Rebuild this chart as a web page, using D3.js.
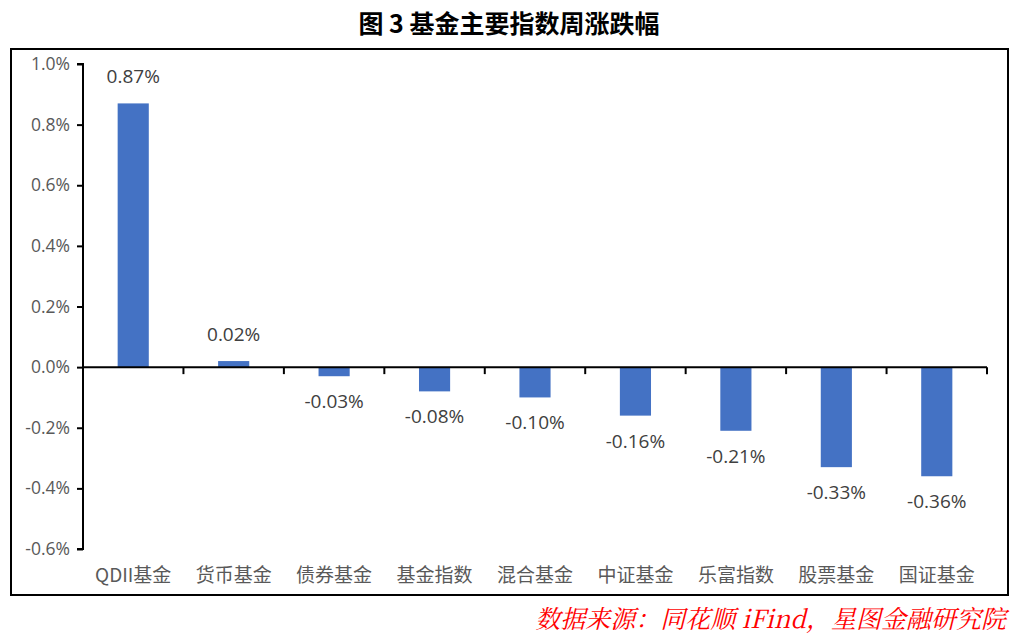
<!DOCTYPE html>
<html>
<head>
<meta charset="utf-8">
<script src="https://cdn.jsdelivr.net/npm/d3@7"></script>
<style>
  body { margin: 0; background: #fff; }
  svg { display: block; }
</style>
</head>
<body>
<svg id="chart" width="1018" height="636"></svg>
<script>
// Chart data
const categories = ['QDII基金', '货币基金', '债券基金', '基金指数', '混合基金', '中证基金', '乐富指数', '股票基金', '国证基金'];
const values = [0.87, 0.02, -0.03, -0.08, -0.10, -0.16, -0.21, -0.33, -0.36];
const yTicks = [1.0, 0.8, 0.6, 0.4, 0.2, 0.0, -0.2, -0.4, -0.6];
const titleText = '图 3 基金主要指数周涨跌幅';
const sourceText = '数据来源：同花顺 iFind，星图金融研究院';

const cjk = '"Noto Sans CJK SC", "Noto Sans", sans-serif';
const latin = '"Open Sans", "Noto Sans", sans-serif';
const margin = { top: 64, right: 31, bottom: 87, left: 83 };
const width = 1018 - margin.left - margin.right;
const height = 636 - margin.top - margin.bottom;

const svg = d3.select('#chart');

// Title
svg.append('text')
  .attr('x', 509)
  .attr('y', 33)
  .attr('text-anchor', 'middle')
  .attr('font-family', cjk)
  .attr('font-weight', 'bold')
  .attr('font-size', 25)
  .attr('fill', '#000')
  .text(titleText);

// Outer frame
svg.append('rect')
  .attr('x', 11)
  .attr('y', 49)
  .attr('width', 997)
  .attr('height', 546)
  .attr('fill', 'none')
  .attr('stroke', '#000')
  .attr('stroke-width', 2);

const chart = svg.append('g')
  .attr('transform', `translate(${margin.left},${margin.top})`);

const xScale = d3.scaleBand().domain(categories).range([0, width]).paddingInner(0.69).paddingOuter(0.345);
const yScale = d3.scaleLinear().domain([1.0, -0.6]).range([0, height]);

// Y axis
const yAxis = d3.axisLeft(yScale).tickValues(yTicks).tickSize(6).tickPadding(7)
  .tickFormat((d) => d.toFixed(1) + '%');
const yAxisG = chart.append('g').attr('class', 'axis y-axis').call(yAxis);
yAxisG.select('.domain').attr('stroke', '#000').attr('stroke-width', 2)
  .attr('d', `M-6,0H0V${height}H-6`);
yAxisG.selectAll('.tick line').attr('stroke', '#000').attr('stroke-width', 2);
yAxisG.selectAll('.tick text')
  .attr('font-family', latin)
  .attr('font-size', 17.5)
  .attr('fill', '#595959');

// Bars
chart.selectAll('.bar')
  .data(values)
  .join('rect')
  .attr('class', 'bar')
  .attr('x', (d, i) => xScale(categories[i]))
  .attr('y', (d) => yScale(Math.max(d, 0)))
  .attr('width', xScale.bandwidth())
  .attr('height', (d) => Math.abs(yScale(d) - yScale(0)))
  .attr('fill', '#4472C4');

// Zero line with category boundary ticks
const step = xScale.step();
const zeroG = chart.append('g').attr('transform', `translate(0,${yScale(0)})`);
zeroG.append('line')
  .attr('x1', 0).attr('x2', width)
  .attr('stroke', '#000').attr('stroke-width', 2);
zeroG.selectAll('.xtick')
  .data(d3.range(1, categories.length + 1))
  .join('line')
  .attr('class', 'xtick')
  .attr('x1', (d) => d * step).attr('x2', (d) => d * step)
  .attr('y1', 0).attr('y2', 7)
  .attr('stroke', '#000').attr('stroke-width', 2);

// Data labels
chart.selectAll('.label')
  .data(values)
  .join('text')
  .attr('class', 'label')
  .attr('x', (d, i) => xScale(categories[i]) + xScale.bandwidth() / 2)
  .attr('y', (d) => d >= 0 ? yScale(d) - 20 : yScale(d) + 32)
  .attr('text-anchor', 'middle')
  .attr('font-family', latin)
  .attr('font-size', 19)
  .attr('fill', '#404040')
  .text((d) => d.toFixed(2) + '%');

// Category labels
chart.selectAll('.cat')
  .data(categories)
  .join('text')
  .attr('class', 'cat')
  .attr('x', (d) => xScale(d) + xScale.bandwidth() / 2)
  .attr('y', height + 33)
  .attr('text-anchor', 'middle')
  .attr('font-family', cjk)
  .attr('font-size', 19)
  .attr('fill', '#595959')
  .text((d) => d);

// Source note
svg.append('text')
  .attr('x', 1006)
  .attr('y', 628)
  .attr('text-anchor', 'end')
  .attr('font-family', '"Noto Serif CJK SC", "Noto Sans CJK SC", serif')
  .attr('font-style', 'italic')
  .attr('font-size', 25)
  .attr('fill', '#FF0000')
  .text(sourceText);
</script>
</body>
</html>
